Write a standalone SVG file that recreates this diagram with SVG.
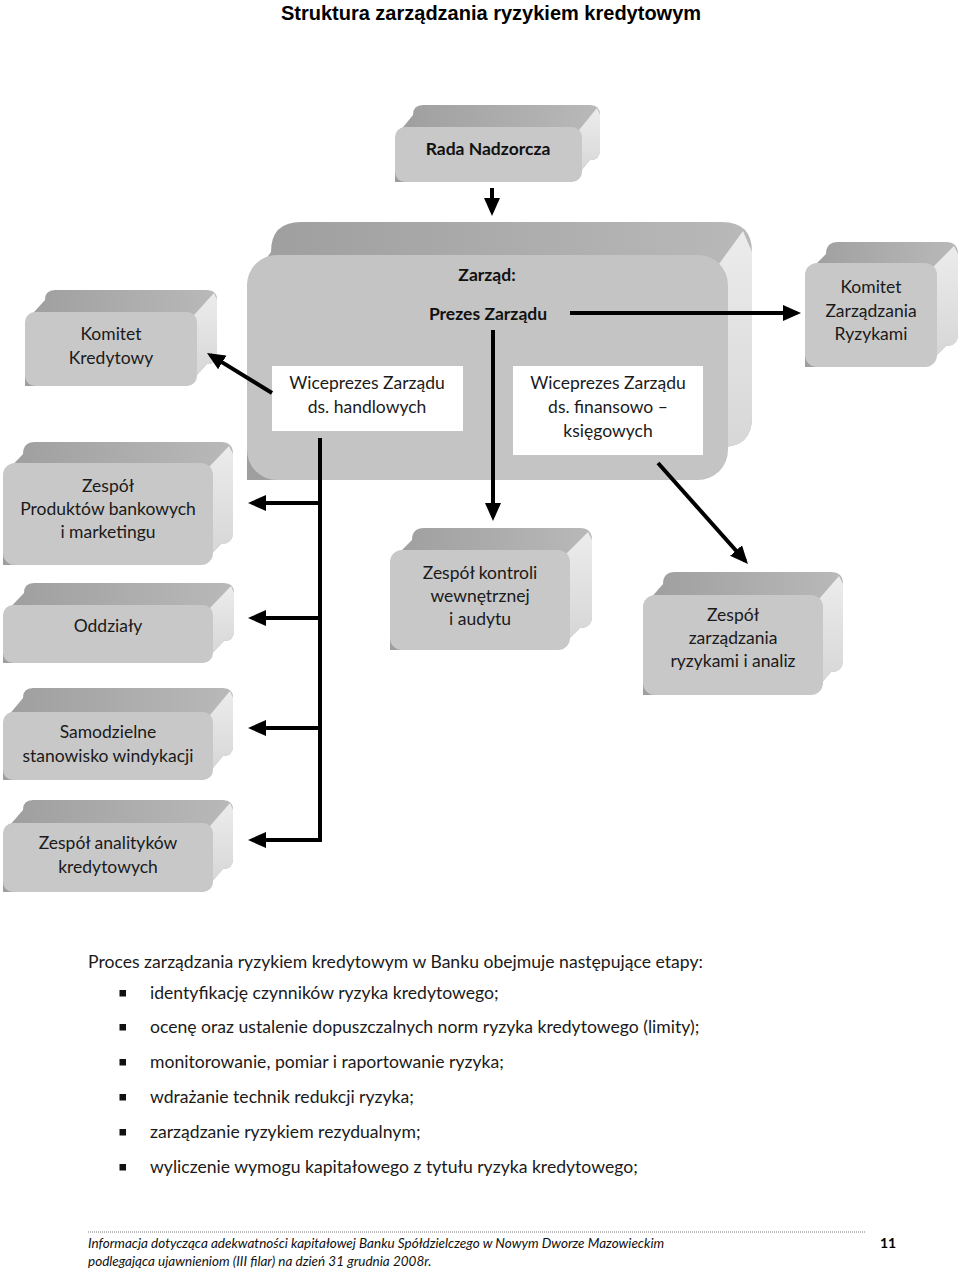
<svg xmlns="http://www.w3.org/2000/svg" width="960" height="1269" viewBox="0 0 960 1269">
<style>
.sil{fill:url(#topG)}
.side{fill:url(#sideG)}
.front{fill:#c8c8c8}
.t{font-family:Lato,"Liberation Sans",sans-serif;font-size:17.5px;fill:#1a1a1a;text-anchor:middle}
.tb{font-family:Lato,"Liberation Sans",sans-serif;font-size:17.5px;font-weight:bold;fill:#111;text-anchor:middle}
.p{font-family:Lato,"Liberation Sans",sans-serif;font-size:17.6px;fill:#1a1a1a}
.f{font-family:Lato,"Liberation Sans",sans-serif;font-size:13.5px;font-style:italic;fill:#111}
.c{stroke:#000;stroke-width:4;fill:none}
.ca{stroke:#000;stroke-width:4;fill:none;marker-end:url(#ah)}
</style>
<defs>
<linearGradient id="topG" x1="0" y1="0" x2="1" y2="0">
<stop offset="0" stop-color="#9e9e9e"/><stop offset="1" stop-color="#b9b9b9"/>
</linearGradient>
<linearGradient id="sideG" x1="0" y1="0" x2="0" y2="1">
<stop offset="0" stop-color="#ececec"/><stop offset="1" stop-color="#d4d4d4"/>
</linearGradient>
<marker id="ah" markerUnits="userSpaceOnUse" markerWidth="18" markerHeight="16" viewBox="0 0 18 16" refX="14" refY="8" orient="auto">
<path d="M0,0 L18,8 L0,16 Z" fill="#000"/>
</marker>
</defs>
<rect width="960" height="1269" fill="#fff"/>
<text x="491" y="20" font-family="'Liberation Sans',Arial,sans-serif" font-size="20" font-weight="bold" text-anchor="middle" fill="#000">Struktura zarządzania ryzykiem kredytowym</text>

<g id="rada">
<path class="sil" d="M395,137 L413,115 Q413,105 423,105 L590,105 Q600,105 600,115 L600,150 Q600,160 590,160 L572,182 L395,182 Z"/>
<path class="side" d="M579,130 L597,108 L600,115 L600,150 Q600,160 590,160 L572,182 Z"/>
<rect class="front" x="395" y="127" width="187" height="55" rx="10"/>
<text class="tb" x="488" y="155" font-size="20">Rada Nadzorcza</text>
</g>

<g id="zarzad">
<path class="sil" d="M247,285 L271,252 Q271,222 301,222 L722,222 Q752,222 752,252 L752,417 Q752,447 722,447 L698,480 L247,480 Z"/>
<path class="side" d="M719,264 L743,231 L752,252 L752,417 Q752,447 722,447 L698,480 Z"/>
<rect x="247" y="255" width="481" height="225" rx="30" fill="#c4c4c4"/>
<text class="tb" x="487" y="281" font-size="18.5">Zarząd:</text>
<text class="tb" x="488" y="320">Prezes Zarządu</text>
</g>

<g id="wice-handlowe">
<rect x="272" y="366" width="191" height="65" fill="#fff"/>
<text class="t" x="367" y="389">Wiceprezes Zarządu</text>
<text class="t" x="367" y="413">ds. handlowych</text>
</g>

<g id="wice-finanse">
<rect x="513" y="366" width="190" height="89" fill="#fff"/>
<text class="t" x="608" y="389">Wiceprezes Zarządu</text>
<text class="t" x="608" y="413">ds. finansowo –</text>
<text class="t" x="608" y="437">księgowych</text>
</g>

<g id="komitet-kredytowy">
<path class="sil" d="M25,322 L45,300 Q45,290 55,290 L207,290 Q217,290 217,300 L217,354 Q217,364 207,364 L187,386 L25,386 Z"/>
<path class="side" d="M194,315 L214,293 L217,300 L217,354 Q217,364 207,364 L187,386 Z"/>
<rect class="front" x="25" y="312" width="172" height="74" rx="10"/>
<text class="t" x="111" y="340">Komitet</text>
<text class="t" x="111" y="364">Kredytowy</text>
</g>

<g id="komitet-ryzyka">
<path class="sil" d="M805,275 L826,254 Q826,242 838,242 L946,242 Q958,242 958,254 L958,334 Q958,346 946,346 L925,367 L805,367 Z"/>
<path class="side" d="M933,267 L954,246 L958,254 L958,334 Q958,346 946,346 L925,367 Z"/>
<rect class="front" x="805" y="263" width="132" height="104" rx="12"/>
<text class="t" x="871" y="293">Komitet</text>
<text class="t" x="871" y="317">Zarządzania</text>
<text class="t" x="871" y="340">Ryzykami</text>
</g>

<g id="produkty">
<path class="sil" d="M3,475 L23,454 Q23,442 35,442 L221,442 Q233,442 233,454 L233,532 Q233,544 221,544 L201,565 L3,565 Z"/>
<path class="side" d="M209,467 L229,446 L233,454 L233,532 Q233,544 221,544 L201,565 Z"/>
<rect class="front" x="3" y="463" width="210" height="102" rx="12"/>
<text class="t" x="108" y="492">Zespół</text>
<text class="t" x="108" y="515">Produktów bankowych</text>
<text class="t" x="108" y="538">i marketingu</text>
</g>

<g id="oddzialy">
<path class="sil" d="M3,615 L24,593 Q24,583 34,583 L224,583 Q234,583 234,593 L234,631 Q234,641 224,641 L203,663 L3,663 Z"/>
<path class="side" d="M210,608 L231,586 L234,593 L234,631 Q234,641 224,641 L203,663 Z"/>
<rect class="front" x="3" y="605" width="210" height="58" rx="10"/>
<text class="t" x="108" y="632">Oddziały</text>
</g>

<g id="windykacja">
<path class="sil" d="M3,722 L23,698 Q23,688 33,688 L223,688 Q233,688 233,698 L233,746 Q233,756 223,756 L203,780 L3,780 Z"/>
<path class="side" d="M210,715 L230,691 L233,698 L233,746 Q233,756 223,756 L203,780 Z"/>
<rect class="front" x="3" y="712" width="210" height="68" rx="10"/>
<text class="t" x="108" y="738">Samodzielne</text>
<text class="t" x="108" y="762">stanowisko windykacji</text>
</g>

<g id="analitycy">
<path class="sil" d="M3,833 L23,810 Q23,800 33,800 L223,800 Q233,800 233,810 L233,859 Q233,869 223,869 L203,892 L3,892 Z"/>
<path class="side" d="M210,826 L230,803 L233,810 L233,859 Q233,869 223,869 L203,892 Z"/>
<rect class="front" x="3" y="823" width="210" height="69" rx="10"/>
<text class="t" x="108" y="849">Zespół analityków</text>
<text class="t" x="108" y="873">kredytowych</text>
</g>

<g id="kontrola">
<path class="sil" d="M390,562 L412,540 Q412,528 424,528 L580,528 Q592,528 592,540 L592,616 Q592,628 580,628 L558,650 L390,650 Z"/>
<path class="side" d="M566,554 L588,532 L592,540 L592,616 Q592,628 580,628 L558,650 Z"/>
<rect class="front" x="390" y="550" width="180" height="100" rx="12"/>
<text class="t" x="480" y="579">Zespół kontroli</text>
<text class="t" x="480" y="602">wewnętrznej</text>
<text class="t" x="480" y="625">i audytu</text>
</g>

<g id="zarzadzanie-ryzykami">
<path class="sil" d="M643,607 L663,584 Q663,572 675,572 L831,572 Q843,572 843,584 L843,660 Q843,672 831,672 L811,695 L643,695 Z"/>
<path class="side" d="M819,599 L839,576 L843,584 L843,660 Q843,672 831,672 L811,695 Z"/>
<rect class="front" x="643" y="595" width="180" height="100" rx="12"/>
<text class="t" x="733" y="621">Zespół</text>
<text class="t" x="733" y="644">zarządzania</text>
<text class="t" x="733" y="667">ryzykami i analiz</text>
</g>

<g id="connectors">
<line class="ca" x1="492" y1="188" x2="492" y2="212"/>
<line class="ca" x1="272" y1="393" x2="210.4" y2="355.1"/>
<line class="ca" x1="570" y1="313" x2="797" y2="313"/>
<line class="ca" x1="493" y1="330" x2="493" y2="517"/>
<line class="c" x1="320" y1="438" x2="320" y2="842"/>
<line class="ca" x1="322" y1="503" x2="252" y2="503"/>
<line class="ca" x1="322" y1="618" x2="252" y2="618"/>
<line class="ca" x1="322" y1="728" x2="252" y2="728"/>
<line class="ca" x1="322" y1="840" x2="252" y2="840"/>
<line class="ca" x1="658" y1="463" x2="745.3" y2="561"/>
</g>

<g id="process-text">
<text class="p" x="88" y="968">Proces zarządzania ryzykiem kredytowym w Banku obejmuje następujące etapy:</text>
<rect x="119.5" y="990" width="6.5" height="6.5" fill="#111"/>
<text class="p" x="150" y="999">identyfikację czynników ryzyka kredytowego;</text>
<rect x="119.5" y="1024" width="6.5" height="6.5" fill="#111"/>
<text class="p" x="150" y="1033">ocenę oraz ustalenie dopuszczalnych norm ryzyka kredytowego (limity);</text>
<rect x="119.5" y="1059" width="6.5" height="6.5" fill="#111"/>
<text class="p" x="150" y="1068">monitorowanie, pomiar i raportowanie ryzyka;</text>
<rect x="119.5" y="1094" width="6.5" height="6.5" fill="#111"/>
<text class="p" x="150" y="1103">wdrażanie technik redukcji ryzyka;</text>
<rect x="119.5" y="1129" width="6.5" height="6.5" fill="#111"/>
<text class="p" x="150" y="1138">zarządzanie ryzykiem rezydualnym;</text>
<rect x="119.5" y="1164" width="6.5" height="6.5" fill="#111"/>
<text class="p" x="150" y="1173">wyliczenie wymogu kapitałowego z tytułu ryzyka kredytowego;</text>
</g>

<g id="footer">
<line x1="88" y1="1232" x2="866" y2="1232" stroke="#777" stroke-width="1" stroke-dasharray="1,1"/>
<text class="f" x="88" y="1248">Informacja dotycząca adekwatności kapitałowej Banku Spółdzielczego w Nowym Dworze Mazowieckim</text>
<text class="f" x="88" y="1266">podlegająca ujawnieniom (III filar) na dzień 31 grudnia 2008r.</text>
<text x="880" y="1248" font-family="Lato,'Liberation Sans',sans-serif" font-size="14" font-weight="bold" fill="#000">11</text>
</g>
</svg>
